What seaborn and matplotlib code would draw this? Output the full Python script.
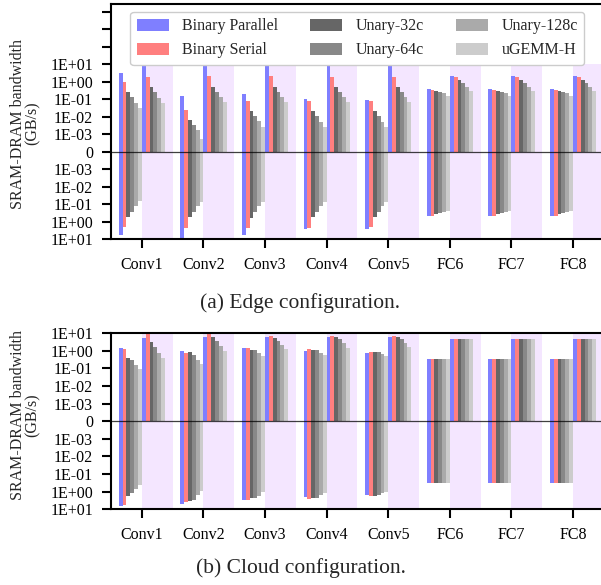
import numpy as np
import pandas as pd
import matplotlib
matplotlib.use("Agg")
import matplotlib.pyplot as plt
from matplotlib.patches import Patch
import seaborn as sns

# ---------------- data (GB/s) ----------------
layers = ["Conv1", "Conv2", "Conv3", "Conv4", "Conv5", "FC6", "FC7", "FC8"]
series = ["Binary Parallel", "Binary Serial", "Unary-32c", "Unary-64c",
          "Unary-128c", "uGEMM-H"]
colors = ["#7f7fff", "#ff7f7f", "#666666", "#888888", "#aaaaaa", "#cccccc"]

# rows = layers, columns = series
edge_left_up = [
    [3.2, 0.98, 0.25, 0.13, 0.059, 0.031],
    [0.15, 0.024, 0.0065, 0.0033, 0.0017, 0.00052],
    [0.19, 0.078, 0.021, 0.011, 0.0056, 0.0026],
    [0.10, 0.078, 0.021, 0.011, 0.0049, 0.0026],
    [0.089, 0.078, 0.021, 0.011, 0.0049, 0.0026],
    [0.37, 0.33, 0.29, 0.25, 0.22, 0.15],
    [0.37, 0.33, 0.29, 0.25, 0.22, 0.15],
    [0.37, 0.33, 0.29, 0.25, 0.22, 0.15],
]
edge_left_down = [
    [5.8, 1.9, 0.50, 0.28, 0.13, 0.062],
    [9.8, 2.2, 0.50, 0.26, 0.13, 0.071],
    [5.4, 2.2, 0.58, 0.28, 0.13, 0.071],
    [2.5, 2.2, 0.50, 0.26, 0.13, 0.071],
    [2.5, 1.9, 0.50, 0.26, 0.13, 0.071],
    [0.45, 0.45, 0.37, 0.32, 0.26, 0.23],
    [0.45, 0.45, 0.37, 0.32, 0.26, 0.23],
    [0.45, 0.45, 0.37, 0.32, 0.26, 0.23],
]
edge_right_up = [
    [10, 1.8, 0.49, 0.25, 0.11, 0.059],
    [10, 2.0, 0.49, 0.25, 0.13, 0.068],
    [10, 2.0, 0.49, 0.25, 0.13, 0.068],
    [10, 1.8, 0.49, 0.25, 0.13, 0.068],
    [10, 1.8, 0.49, 0.25, 0.13, 0.068],
    [2.0, 1.8, 1.2, 0.81, 0.49, 0.29],
    [2.0, 1.8, 1.2, 0.81, 0.49, 0.29],
    [2.0, 1.8, 1.2, 0.81, 0.49, 0.29],
]

cloud_left_up = [
    [1.5, 1.3, 0.38, 0.30, 0.16, 0.093],
    [0.98, 0.76, 0.87, 0.59, 0.30, 0.18],
    [1.5, 1.5, 1.1, 1.1, 0.76, 0.51],
    [0.98, 1.3, 1.1, 1.1, 0.76, 0.59],
    [0.76, 0.87, 0.87, 0.87, 0.66, 0.51],
    [0.35, 0.35, 0.35, 0.35, 0.35, 0.35],
    [0.35, 0.35, 0.35, 0.35, 0.35, 0.35],
    [0.35, 0.35, 0.35, 0.35, 0.35, 0.35],
]
cloud_left_down = [
    [6.3, 5.5, 1.7, 1.15, 0.68, 0.40],
    [4.8, 3.7, 3.2, 2.8, 1.5, 0.87],
    [2.8, 2.8, 2.2, 2.2, 1.7, 1.0],
    [1.9, 2.5, 2.2, 2.2, 1.5, 1.15],
    [1.5, 1.7, 1.7, 1.5, 1.15, 1.0],
    [0.33, 0.33, 0.33, 0.33, 0.33, 0.33],
    [0.33, 0.33, 0.33, 0.33, 0.33, 0.33],
    [0.33, 0.33, 0.33, 0.33, 0.33, 0.33],
]
cloud_right_up = [
    [5.4, 10, 3.2, 1.7, 0.76, 0.40],
    [6.2, 9.1, 6.2, 3.6, 1.9, 0.98],
    [6.2, 7.1, 5.4, 3.6, 2.2, 1.3],
    [6.2, 7.1, 6.2, 4.8, 2.8, 1.5],
    [6.2, 7.1, 6.2, 4.8, 2.8, 1.7],
    [4.8, 4.8, 4.8, 4.8, 4.8, 4.8],
    [4.8, 4.8, 4.8, 4.8, 4.8, 4.8],
    [4.8, 4.8, 4.8, 4.8, 4.8, 4.8],
]

ytick_vals = [-10, -1, -0.1, -0.01, -0.001, 0, 0.001, 0.01, 0.1, 1, 10]
ytick_labels = ["1E+01", "1E+00", "1E-01", "1E-02", "1E-03", "0",
                "1E-03", "1E-02", "1E-01", "1E+00", "1E+01"]
extra_ticks_edge = [100, 1000, 10000]
captions = ["(a) Edge configuration.", "(b) Cloud configuration."]

# ---------------- style ----------------
sns.set_style("ticks")
plt.rcParams["font.family"] = ["Liberation Serif", "DejaVu Serif"]
plt.rcParams["axes.linewidth"] = 1.5
plt.rcParams["axes.edgecolor"] = "black"

shade = "#f4e6ff"
FS = 11.5


def fwd(y):
    y = np.asarray(y, dtype=float)
    a = np.abs(y)
    with np.errstate(all="ignore"):
        u = np.where(a > 0, np.log10(np.where(a > 0, a, 1.0)) + 4.0, 0.0)
    u = np.maximum(u, 0.0)
    return np.sign(y) * u


def inv(u):
    u = np.asarray(u, dtype=float)
    with np.errstate(all="ignore"):
        return np.where(u == 0, 0.0, np.sign(u) * 10.0 ** (np.abs(u) - 4.0))


hue_order = ["L|" + s for s in series] + ["R|" + s for s in series]
palette = {h: colors[i % 6] for i, h in enumerate(hue_order)}


def make_frames(left_up, left_down, right_up):
    up_rows, down_rows = [], []
    for li, layer in enumerate(layers):
        for si, s in enumerate(series):
            up_rows.append((layer, "L|" + s, left_up[li][si]))
            up_rows.append((layer, "R|" + s, right_up[li][si]))
            down_rows.append((layer, "L|" + s, -left_down[li][si]))
    cols = ["layer", "combo", "value"]
    return pd.DataFrame(up_rows, columns=cols), pd.DataFrame(down_rows, columns=cols)


fig = plt.figure(figsize=(6.01, 5.85), dpi=100)
ax1 = fig.add_axes([0.1847, 0.5909, 0.8200, 0.4023])
ax2 = fig.add_axes([0.1847, 0.1294, 0.8200, 0.3009])

panels = [
    (ax1, make_frames(edge_left_up, edge_left_down, edge_right_up), 10 ** (8.43 - 4), 0.492, 0.4735),
    (ax2, make_frames(cloud_left_up, cloud_left_down, cloud_right_up), 10.0, 0.533, 0.020),
]

for k, (ax, (df_up, df_down), ytop, ylab_y, cap_y) in enumerate(panels):
    ax.set_yscale("function", functions=(fwd, inv))
    for i in range(len(layers)):
        ax.fill_between([i, i + 0.5], -10, 10, color=shade, lw=0, zorder=0)
    for df in (df_up, df_down):
        sns.barplot(data=df, x="layer", y="value", hue="combo", hue_order=hue_order,
                    order=layers, palette=palette, width=0.75, dodge=True,
                    errorbar=None, saturation=1, linewidth=0, legend=False,
                    ax=ax, zorder=2)
    ax.axhline(0, color="black", lw=0.9, alpha=0.75, zorder=3)
    ax.set_xlim(-0.5, len(layers) - 0.5)
    ax.set_ylim(-10, ytop)
    ticks = list(ytick_vals)
    labels = list(ytick_labels)
    if k == 0:
        ticks += extra_ticks_edge
        labels += [""] * len(extra_ticks_edge)
    ax.set_yticks(ticks)
    ax.set_yticklabels(labels)
    ax.yaxis.set_minor_locator(matplotlib.ticker.NullLocator())
    ax.tick_params(axis="both", which="major", length=6.5, width=1.5, pad=6.5,
                   labelsize=FS, direction="out", colors="black")
    ax.set_xlabel("")
    ax.set_ylabel("SRAM-DRAM bandwidth\n(GB/s)", fontsize=FS, linespacing=0.95)
    ax.yaxis.set_label_coords(-0.142, ylab_y)
    for sp in ax.spines.values():
        sp.set_visible(True)
        sp.set_linewidth(1.5)
        sp.set_color("black")
    ax.grid(False)
    fig.text(0.5, cap_y, captions[k], ha="center", va="baseline", fontsize=15.5)

handles = [Patch(facecolor=c, edgecolor="none", label=s) for s, c in zip(series, colors)]
leg = ax1.legend(handles=handles, ncol=3, loc="upper center",
                 bbox_to_anchor=(0.5, 0.966), borderaxespad=0, fontsize=FS,
                 handlelength=2.0, handleheight=0.75, handletextpad=0.85,
                 columnspacing=2.0, frameon=True, fancybox=True,
                 edgecolor="0.8", framealpha=1.0)
leg.set_zorder(5)

fig.savefig("out.png", dpi=100)
